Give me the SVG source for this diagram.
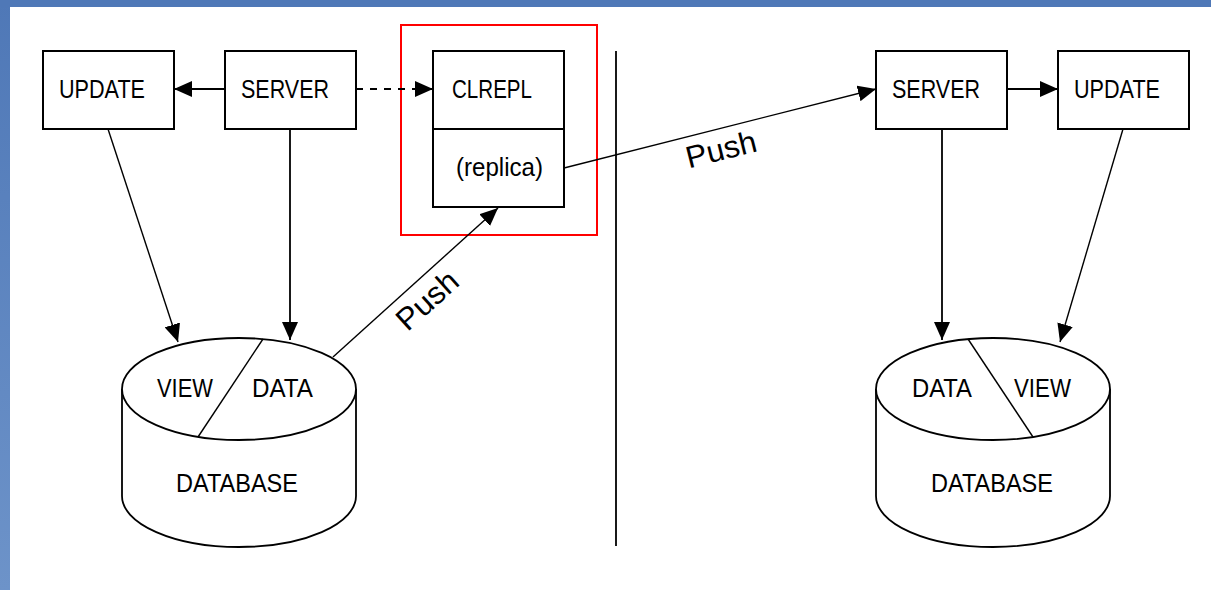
<svg xmlns="http://www.w3.org/2000/svg" width="1211" height="590" viewBox="0 0 1211 590">
<style>
.box{fill:#fff;stroke:#000;stroke-width:2}
.db{fill:#fff;stroke:#000;stroke-width:1.8}
.t{font-family:"Liberation Sans",Arial,sans-serif;font-size:25px;fill:#000}
.push{font-family:"Liberation Sans",Arial,sans-serif;font-size:31px;fill:#000}
.ln{stroke:#000;stroke-width:1.8;fill:none}
.dl{stroke:#000;stroke-width:1.4;fill:none}
</style>
<defs>
<marker id="ah" viewBox="0 0 18 16" refX="18" refY="8" markerWidth="18" markerHeight="16" markerUnits="userSpaceOnUse" orient="auto">
<path d="M0,0 L18,8 L0,16 z" fill="#000"/>
</marker>
<linearGradient id="lb" x1="0" y1="0" x2="0" y2="1">
<stop offset="0" stop-color="#4f78b7"/>
<stop offset="1" stop-color="#6d93c9"/>
</linearGradient>
</defs>
<rect x="0" y="0" width="1211" height="590" fill="#fff"/>
<rect x="0" y="0" width="10" height="590" fill="url(#lb)"/>
<rect x="0" y="0" width="1211" height="7" fill="#4f78b7"/>

<g id="separator"><line x1="616" y1="51" x2="616" y2="546" class="ln"/></g>

<g id="red-frame"><rect x="401" y="25" width="196" height="210" fill="none" stroke="#f00" stroke-width="2"/></g>

<g id="update-left"><rect class="box" x="43" y="51" width="131" height="78"/><text class="t" x="59" y="98" textLength="86" lengthAdjust="spacingAndGlyphs">UPDATE</text></g>
<g id="server-left"><rect class="box" x="225" y="51" width="131" height="78"/><text class="t" x="241" y="98" textLength="88" lengthAdjust="spacingAndGlyphs">SERVER</text></g>
<g id="clrepl"><rect class="box" x="433" y="51" width="131" height="156"/><line x1="433" y1="129" x2="564" y2="129" class="ln" stroke-width="2"/><text class="t" x="452" y="98" textLength="80" lengthAdjust="spacingAndGlyphs">CLREPL</text><text class="t" x="456" y="176" textLength="87" lengthAdjust="spacingAndGlyphs">(replica)</text></g>
<g id="server-right"><rect class="box" x="876" y="51" width="131" height="78"/><text class="t" x="892" y="98" textLength="88" lengthAdjust="spacingAndGlyphs">SERVER</text></g>
<g id="update-right"><rect class="box" x="1058" y="51" width="131" height="78"/><text class="t" x="1074" y="98" textLength="86" lengthAdjust="spacingAndGlyphs">UPDATE</text></g>

<g id="database-left">
<path class="db" d="M122,389 L122,496 A117,51 0 0 0 356,496 L356,389"/>
<ellipse class="db" cx="239" cy="389" rx="117" ry="51"/>
<line x1="263" y1="339" x2="198" y2="437" class="dl"/>
<text class="t" x="157" y="397" textLength="56" lengthAdjust="spacingAndGlyphs">VIEW</text>
<text class="t" x="252" y="397" textLength="61" lengthAdjust="spacingAndGlyphs">DATA</text>
<text class="t" x="176" y="492" textLength="122" lengthAdjust="spacingAndGlyphs">DATABASE</text>
</g>
<g id="database-right">
<path class="db" d="M876,389 L876,496 A117,51 0 0 0 1110,496 L1110,389"/>
<ellipse class="db" cx="993" cy="389" rx="117" ry="51"/>
<line x1="968" y1="339" x2="1033" y2="437" class="dl"/>
<text class="t" x="912" y="397" textLength="60" lengthAdjust="spacingAndGlyphs">DATA</text>
<text class="t" x="1014" y="397" textLength="57" lengthAdjust="spacingAndGlyphs">VIEW</text>
<text class="t" x="931" y="492" textLength="122" lengthAdjust="spacingAndGlyphs">DATABASE</text>
</g>

<g id="connectors">
<line x1="225" y1="89" x2="174" y2="89" class="ln" marker-end="url(#ah)"/>
<line x1="356" y1="89" x2="433" y2="89" class="ln" stroke-dasharray="7 7" marker-end="url(#ah)"/>
<line x1="1007" y1="89" x2="1058" y2="89" class="ln" marker-end="url(#ah)"/>
<line x1="108" y1="129" x2="178" y2="342" class="dl" marker-end="url(#ah)"/>
<line x1="290" y1="129" x2="290" y2="340" class="ln" marker-end="url(#ah)"/>
<line x1="333" y1="357" x2="498" y2="208" class="dl" marker-end="url(#ah)"/>
<line x1="564" y1="168" x2="876" y2="89" class="dl" marker-end="url(#ah)"/>
<line x1="942" y1="129" x2="942" y2="340" class="ln" marker-end="url(#ah)"/>
<line x1="1123" y1="129" x2="1060" y2="342" class="dl" marker-end="url(#ah)"/>
<text class="push" transform="translate(427,300) rotate(-42)" x="0" y="11" text-anchor="middle" textLength="72" lengthAdjust="spacingAndGlyphs">Push</text>
<text class="push" transform="translate(721,149) rotate(-14)" x="0" y="11" text-anchor="middle" textLength="72" lengthAdjust="spacingAndGlyphs">Push</text>
</g>
</svg>
